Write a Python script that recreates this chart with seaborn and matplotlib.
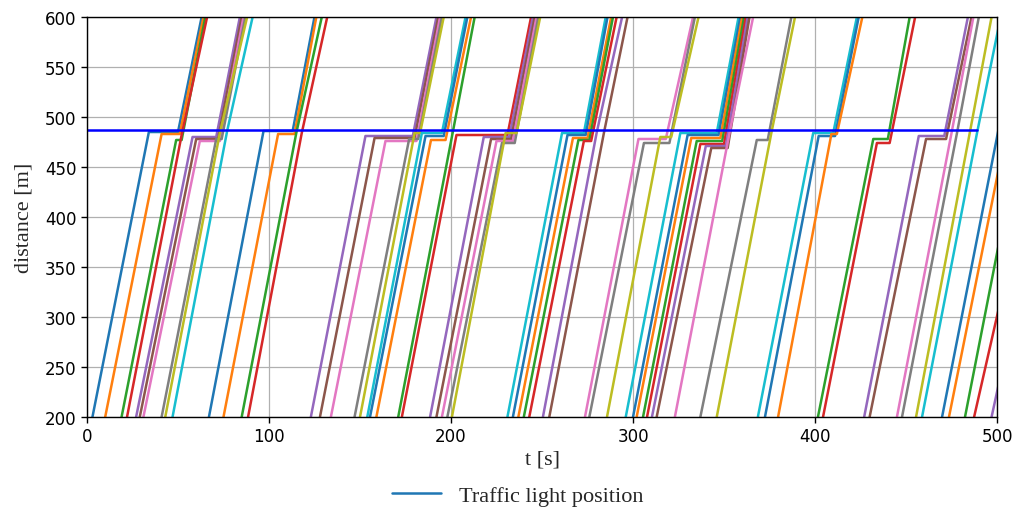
import pandas as pd
import seaborn as sns
import matplotlib.pyplot as plt
from matplotlib.lines import Line2D

# Trajectórias dos veículos
# t_in: instante em que entra em 200 m; t_stop/y_stop: chega à fila;
# t_go: arranca; t_out: instante em que alcança 600 m
t_in = [3, 10, 19, 22, 27, 29, 31, 41, 43, 47,
        67, 75, 85, 88.5, 123, 128, 134, 147, 150, 154,
        155.5, 159, 171, 173, 188.5, 192, 195, 198, 200.5, 231,
        234, 237, 240, 243, 250.5, 254, 273.6, 276, 285.7, 296,
        300, 302, 305.5, 307.7, 310.4, 313, 323, 337, 346, 368.6,
        372.5, 379.7, 401.6, 404.4, 427, 430, 445, 447.8, 455.5, 458.8,
        469.8, 473.6, 482.4, 487.4, 497]
t_stop = [34, 41, 49, 52, 58, 60, 62, 71, 73, 77,
          97, 105, 115, 118, 153, 158, 164, 177, 180, 184,
          186, 189, 201, 203, 218, 222, 225, 228, 230, 261,
          264, 267, 270, 273, 280, 284, 303, 306, 315, 326,
          330, 332, 335, 337, 340, 343, 353, 368, 376, 399,
          402, 409, 432, 434, 457, 461, 475, 478, 485, 489,
          500, 505, 513, 523, 531]
y_stop = [485, 483, 477, 482, 480, 478, 476, 478, 484, 486,
          486, 483, 484, 484, 481, 479, 476, 478, 484, 484,
          481, 477, 485, 482, 480, 478, 476, 474, 484, 484,
          482, 479, 477, 476, 484, 484, 478, 474, 480, 484,
          482, 479, 476, 473, 471, 469, 484, 477, 484, 484,
          481, 483, 478, 474, 481, 478, 484, 484, 484, 484,
          480, 485, 485, 485, 485]
t_go = [50, 51, 52, 52, 71, 72, 73, 74, 73, 77,
        113, 114, 115, 118, 179, 180, 181, 182, 183, 195,
        196, 197, 201, 231, 232, 233, 234, 235, 236, 273,
        274, 275, 276, 277, 280, 284, 318, 320, 321, 346,
        347, 348, 349, 350, 351, 352, 353, 374, 376, 410,
        411, 412, 440, 441, 471, 472, 475, 478, 485, 489,
        500, 505, 513, 523, 531]
t_out = [63, 64, 65, 66, 84, 85, 86, 87, 88, 91,
         125, 126, 129, 132, 192, 193, 194, 195, 196, 208,
         209, 211, 213, 244, 245, 246, 247, 248, 249, 285,
         286, 288, 289, 291, 294, 297, 333, 334, 336, 358,
         359, 360, 361, 362, 363, 364, 366, 387, 389, 423,
         424, 426, 452, 455, 484, 486, 487, 490, 497, 502,
         513, 518, 526, 536, 544]

light_pos = 487
light_end = 489

rows = []
for i in range(len(t_in)):
    pts = [(t_in[i], 200), (t_stop[i], y_stop[i]), (t_go[i], y_stop[i]), (t_out[i], 600)]
    for t, d in pts:
        rows.append({'veiculo': i, 't': t, 'distancia': d})
df = pd.DataFrame(rows)

sns.set_theme(style="whitegrid")
plt.rcParams['font.family'] = ['DejaVu Sans']

tab = sns.color_palette("tab10")
paleta = [tab[i % 10] for i in range(len(t_in))]

fig = plt.figure(figsize=(10.15, 5.1), dpi=100)
ax = fig.add_axes([0.0857, 0.1804, 0.8966, 0.7843])

sns.lineplot(data=df, x='t', y='distancia', hue='veiculo', palette=paleta,
             estimator=None, sort=False, legend=False, linewidth=1.8, ax=ax)
ax.plot([0, light_end], [light_pos, light_pos], color='blue', linewidth=1.8)

ax.set_xlim(0, 500)
ax.set_ylim(200, 600)
ax.set_xticks(range(0, 501, 100))
ax.set_yticks(range(200, 601, 50))
ax.grid(True, color='#b0b0b0', linewidth=0.9)
for s in ax.spines.values():
    s.set_color('black')
    s.set_linewidth(1.0)
ax.tick_params(axis='both', which='both', direction='out', length=4, width=1,
               color='black', labelsize=12, labelcolor='black', bottom=True, left=True)

serif = {'family': 'Liberation Serif', 'size': 16}
ax.set_xlabel('t [s]', fontdict=serif, labelpad=3)
ax.set_ylabel('distance [m]', fontdict=serif, labelpad=8)

handle = Line2D([], [], color=tab[0], linewidth=1.8)
fig.legend([handle], ['Traffic light position'], loc='center', bbox_to_anchor=(0.51, 0.027),
           frameon=False, prop={'family': 'Liberation Serif', 'size': 16},
           handlelength=2.2)

plt.savefig('out.png', dpi=100)
